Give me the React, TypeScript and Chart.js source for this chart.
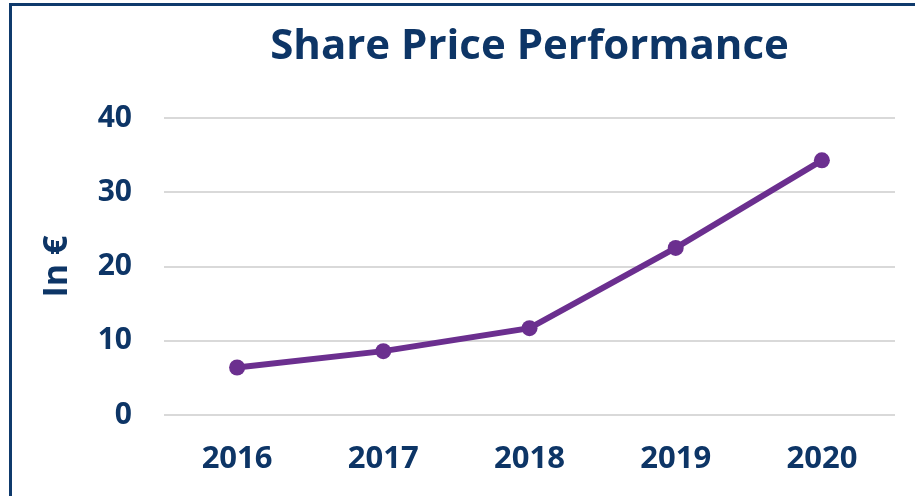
import React, { useEffect, useRef } from "react";
import { Chart, registerables } from "chart.js";

Chart.register(...registerables);

const categories = ["2016", "2017", "2018", "2019", "2020"];
const sharePrice = [6.4, 8.6, 11.7, 22.5, 34.3];
const yTicks = [0, 10, 20, 30, 40];
const titleText = "Share Price Performance";
const yTitle = "In €";

const NAVY = "#0d3566";
const PURPLE = "#6b2f8f";
const FONT = "'Open Sans'";

const titlePlugin = {
  id: "centeredTitle",
  afterDraw(chart: any) {
    const { ctx, chartArea } = chart;
    ctx.save();
    ctx.fillStyle = NAVY;
    ctx.font = `bold 42px ${FONT}`;
    ctx.textAlign = "center";
    ctx.textBaseline = "middle";
    ctx.fillText(titleText, (chartArea.left + chartArea.right) / 2, 47);
    ctx.restore();
  },
};

export default function App() {
  const ref = useRef<HTMLCanvasElement | null>(null);
  useEffect(() => {
    if (!ref.current) return;
    const chart = new Chart(ref.current, {
      type: "line",
      data: {
        labels: categories,
        datasets: [
          {
            data: sharePrice,
            borderColor: PURPLE,
            backgroundColor: PURPLE,
            borderWidth: 6,
            pointRadius: 8,
            pointHoverRadius: 8,
            pointBackgroundColor: PURPLE,
            pointBorderWidth: 0,
            tension: 0,
          },
        ],
      },
      options: {
        responsive: false,
        animation: false,
        layout: { padding: { top: 118, left: 0, right: 20, bottom: 0 } },
        plugins: {
          legend: { display: false },
          tooltip: { enabled: false },
          title: { display: false },
        },
        scales: {
          x: {
            offset: true,
            grid: { display: false, drawTicks: false },
            border: { display: false },
            ticks: {
              color: NAVY,
              font: { family: FONT, size: 31, weight: "bold" },
              padding: 26,
            },
            afterFit: (s: any) => {
              s.height = 81;
            },
          },
          y: {
            min: 0,
            max: 40,
            afterBuildTicks: (s: any) => {
              s.ticks = yTicks.map((v) => ({ value: v }));
            },
            grid: { color: "#d9d9d9", lineWidth: 2, drawTicks: false },
            border: { display: false },
            ticks: {
              color: NAVY,
              font: { family: FONT, size: 30, weight: "bold" },
              padding: 32,
            },
            title: {
              display: true,
              text: yTitle,
              color: NAVY,
              font: { family: FONT, size: 34, weight: "bold" },
              padding: { top: 37, bottom: 0 },
            },
            afterFit: (s: any) => {
              s.width = 164;
            },
          },
        },
      },
      plugins: [titlePlugin],
    });
    return () => chart.destroy();
  }, []);

  return (
    <div
      style={{
        position: "fixed",
        left: 0,
        top: 0,
        width: 915,
        height: 496,
        overflow: "hidden",
        background: "#fff",
      }}
    >
      <div
        style={{
          position: "absolute",
          left: 9,
          top: 3,
          width: 940,
          height: 520,
          border: "3px solid #0f3a6c",
          boxSizing: "border-box",
        }}
      />
      <canvas
        ref={ref}
        width={915}
        height={496}
        style={{ position: "absolute", left: 0, top: 0 }}
      />
    </div>
  );
}
